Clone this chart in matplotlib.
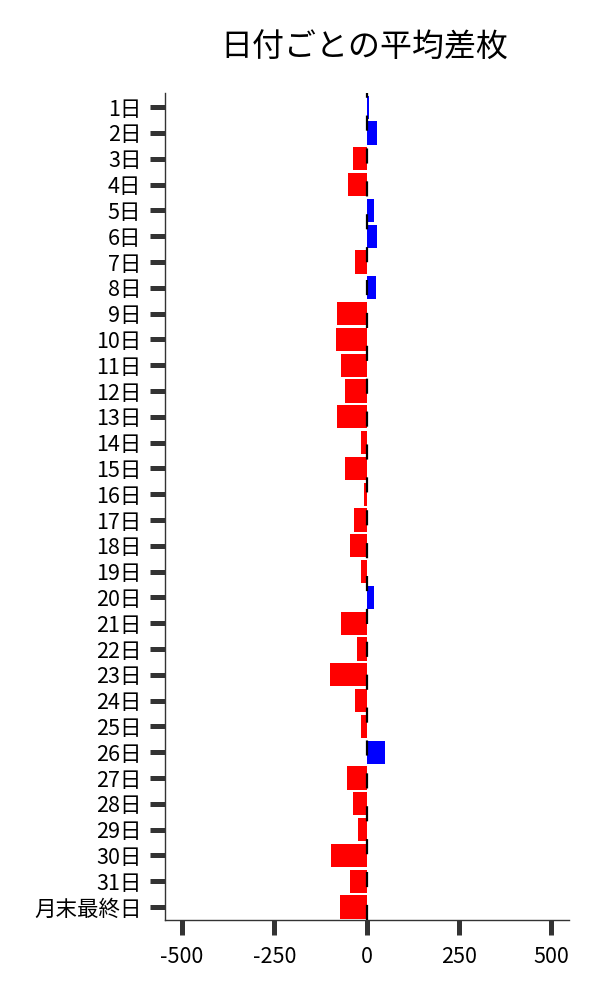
import matplotlib
matplotlib.use("Agg")
import matplotlib.pyplot as plt
import numpy as np

plt.rcParams['font.family'] = ['Noto Sans CJK JP', 'DejaVu Sans']

# ── Data ─────────────────────────────────────────────────────────────────
days = [f"{d}日" for d in range(1, 32)] + ["月末最終日"]
avg_diff = [6, 28, -38, -49, 19, 28, -30, 25, -81, -84,
            -68, -57, -81, -14, -57, -8, -33, -46, -16, 21,
            -70, -27, -98, -30, -16, 49, -54, -38, -24, -95,
            -46, -73]
x_ticks = [-500, -250, 0, 250, 500]

colors = ["blue" if v > 0 else "red" for v in avg_diff]

# ── Plot ─────────────────────────────────────────────────────────────────
fig = plt.figure(figsize=(6, 10), dpi=100)
ax = fig.add_axes([0.275, 0.08, 0.673, 0.827])

y = np.arange(len(days))
ax.barh(y, avg_diff, height=0.9, color=colors, zorder=2)
ax.axvline(0, color="black", linewidth=1.6, linestyle=(0, (6.8, 8.0)), zorder=3)

ax.set_yticks(y)
ax.set_yticklabels(days, fontsize=15.5)
ax.set_xticks(x_ticks)
ax.set_xticklabels([str(t) for t in x_ticks], fontsize=15.5)
ax.set_xlim(-546, 548)
ax.set_ylim(len(days) - 0.5, -0.55)

ax.tick_params(axis="both", length=11, width=3.6, color="#333333")
ax.tick_params(axis="y", pad=6)
ax.tick_params(axis="x", pad=8)
for side in ["top", "right"]:
    ax.spines[side].set_visible(False)
for side in ["left", "bottom"]:
    ax.spines[side].set_color("#333333")
    ax.spines[side].set_linewidth(1.0)

fig.suptitle("日付ごとの平均差枚", fontsize=23, x=0.608, y=0.968)

fig.savefig("out.png", dpi=100)
